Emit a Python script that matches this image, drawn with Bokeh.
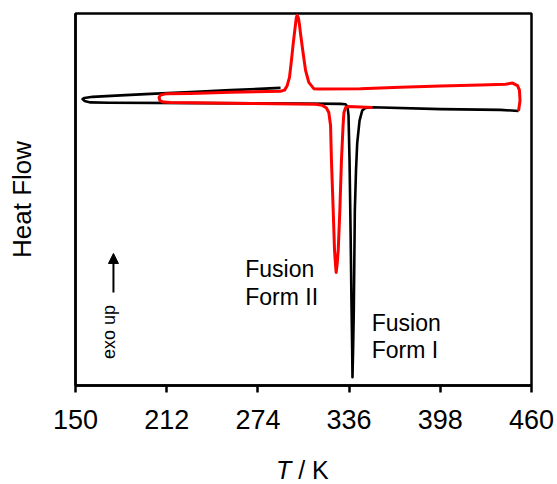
from math import pi
from bokeh.plotting import figure
from bokeh.models import FixedTicker, Label, Arrow, NormalHead, Range1d, Div
from bokeh.layouts import column
from bokeh.embed import file_html
from bokeh.resources import INLINE

# Form I (black) DSC trace: temperature (K) and heat flow (a.u., exo up)
black_T = [289.4, 255.4, 228.2, 201.0, 180.6, 161.6, 156.1, 154.8, 156.1, 160.2,
           172.4, 235.0, 303.0, 330.2, 333.6, 334.9, 335.6, 336.3, 337.0, 337.6,
           338.1, 338.3, 338.7, 339.2, 339.9, 340.7, 341.5, 343.1, 344.9, 347.1,
           351.9, 398.1, 438.9, 451.2]
black_HF = [80.0, 79.4, 78.9, 78.4, 78.0, 77.6, 77.3, 77.0, 76.5, 76.1,
            76.0, 75.9, 75.8, 75.7, 75.6, 75.0, 72.6, 60.5, 41.7, 22.8,
            9.4, 2.2, 9.4, 20.2, 47.0, 57.8, 65.1, 71.2, 73.9, 74.6,
            74.8, 74.3, 74.1, 73.8]

# Form II (red) DSC trace
red_T = [451.2, 452.2, 451.8, 450.5, 447.1, 442.3, 425.3, 398.1, 370.9, 343.7,
         315.2, 312.0, 308.6, 306.4, 304.8, 303.0, 302.2, 301.5, 300.7, 300.1,
         299.6, 298.0, 296.8, 295.5, 293.9, 292.1, 289.4, 255.4, 228.2, 211.2,
         207.8, 206.8, 207.4, 209.8, 214.6, 269.0, 313.2, 317.9, 320.6, 322.2,
         323.4, 324.0, 325.2, 326.1, 326.8, 327.2, 327.8, 328.6, 329.7, 330.8,
         331.9, 332.5, 333.6, 335.6, 351.9]
red_HF = [73.8, 76.6, 79.4, 80.6, 81.3, 81.0, 80.8, 80.5, 80.2, 79.8,
          79.7, 79.8, 81.5, 84.7, 89.2, 94.5, 97.2, 98.9, 99.5, 98.9,
          97.2, 91.9, 87.4, 82.9, 80.6, 79.4, 79.1, 78.8, 78.5, 78.4,
          78.1, 77.4, 76.6, 76.2, 76.1, 75.8, 75.6, 75.3, 74.6, 73.4,
          69.9, 60.5, 47.0, 36.3, 32.3, 30.4, 32.3, 36.3, 47.0, 60.5,
          69.9, 73.4, 74.7, 75.0, 74.7]

x_ticks = [150, 212, 274, 336, 398, 460]

FONT = "Liberation Sans"

p = figure(width=557, height=445, output_backend="svg", toolbar_location=None,
           x_range=Range1d(150, 460), y_range=Range1d(0, 100),
           min_border_left=75, min_border_right=26, min_border_top=13,
           min_border_bottom=60)
p.grid.visible = False
p.outline_line_color = "black"
p.outline_line_width = 2.5
p.background_fill_color = "white"
p.border_fill_color = "white"

p.xaxis.ticker = FixedTicker(ticks=x_ticks)
p.xaxis.minor_tick_line_color = None
p.xaxis.major_tick_out = 7
p.xaxis.major_tick_in = 0
p.xaxis.major_tick_line_width = 2.5
p.xaxis.axis_line_width = 2.5
p.xaxis.major_label_text_font = FONT
p.xaxis.major_label_text_font_size = "27px"
p.xaxis.major_label_text_color = "black"
p.xaxis.major_label_standoff = 17

p.yaxis.ticker = FixedTicker(ticks=[])
p.yaxis.minor_tick_line_color = None
p.yaxis.major_tick_line_color = None
p.yaxis.major_tick_out = 0
p.yaxis.major_tick_in = 0
p.yaxis.major_label_text_font_size = "0px"
p.yaxis.axis_line_width = 2.5
p.yaxis.axis_label = "Heat Flow"
p.yaxis.axis_label_text_font = FONT
p.yaxis.axis_label_text_font_size = "26px"
p.yaxis.axis_label_text_font_style = "normal"
p.yaxis.axis_label_text_color = "black"
p.yaxis.axis_label_standoff = 39

p.line(black_T, black_HF, line_color="black", line_width=2.6, line_join="round")
p.line(red_T, red_HF, line_color="#ff0000", line_width=3, line_join="round")

def lab(x, y, text, size, **kw):
    p.add_layout(Label(x=x, y=y, text=text, text_font=FONT, text_font_size=size,
                       text_color="black", **kw))

lab(265.4, 27.8, "Fusion", "23px")
lab(265.4, 20.4, "Form II", "23px")
lab(351.4, 13.4, "Fusion", "23px")
lab(351.4, 6.0, "Form I", "23px")
lab(179.9, 14.4, "exo up", "18px", angle=pi / 2, text_align="center")

p.add_layout(Arrow(end=NormalHead(size=10, fill_color="black", line_color="black"),
                   x_start=175.8, y_start=25.0, x_end=175.8, y_end=35.5,
                   line_width=2, line_color="black"))

xlabel = Div(
    text=('<div style="font-family:\'Liberation Sans\'; font-size:25px; '
          'line-height:28px; margin-left:276px; margin-top:11px; '
          'white-space:nowrap; color:black"><i>T</i> / K</div>'),
    width=557, height=39, margin=0)

layout = column(p, xlabel, spacing=0)

open("out.html", "w").write(file_html(layout, INLINE))
